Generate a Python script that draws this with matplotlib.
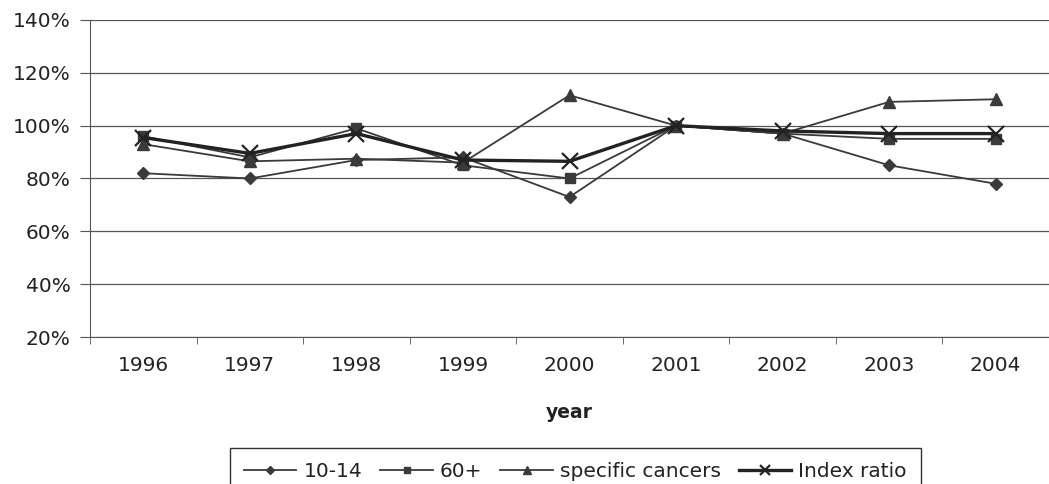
import matplotlib
matplotlib.use("Agg")
import matplotlib.pyplot as plt
from matplotlib.ticker import FuncFormatter, FixedLocator

plt.rcParams['font.family'] = ['DejaVu Sans']

# data (fractions, 1.0 = 100%)
years = ["1996", "1997", "1998", "1999", "2000", "2001", "2002", "2003", "2004"]
age_10_14 = [0.82, 0.80, 0.87, 0.88, 0.73, 1.00, 0.97, 0.85, 0.78]
age_60_plus = [0.96, 0.88, 0.99, 0.85, 0.80, 1.00, 0.97, 0.95, 0.95]
specific_cancers = [0.93, 0.865, 0.875, 0.86, 1.115, 1.00, 0.97, 1.09, 1.10]
index_ratio = [0.955, 0.895, 0.97, 0.87, 0.865, 1.00, 0.98, 0.97, 0.97]

line_col = "#3a3a3a"

fig = plt.figure(figsize=(10.49, 4.84), dpi=100)
ax = fig.add_axes([0.0858, 0.3037, 0.9142, 0.655])

x = list(range(len(years)))
ax.plot(x, age_10_14, color=line_col, lw=1.3, marker="D", ms=6, label="10-14")
ax.plot(x, age_60_plus, color=line_col, lw=1.3, marker="s", ms=7, label="60+")
ax.plot(x, specific_cancers, color=line_col, lw=1.3, marker="^", ms=8, label="specific cancers")
ax.plot(x, index_ratio, color="#222222", lw=2.4, marker="x", ms=11, mew=1.6, label="Index ratio")

ax.set_ylim(0.2, 1.4)
ax.set_xlim(-0.5, len(years) - 0.5)
ax.set_yticks([0.2, 0.4, 0.6, 0.8, 1.0, 1.2, 1.4])
ax.yaxis.set_major_formatter(FuncFormatter(lambda v, p: f"{v * 100:.0f}%"))
ax.set_xticks(x)
ax.set_xticklabels(years)
ax.xaxis.set_minor_locator(FixedLocator([i + 0.5 for i in range(-1, len(years))]))
ax.tick_params(axis="x", which="major", length=0, pad=14, labelsize=14.5, labelcolor="#222222")
ax.tick_params(axis="x", which="minor", length=5, direction="out", color="#555555")
ax.tick_params(axis="y", length=7, direction="out", color="#555555", labelsize=14.5,
               pad=7, labelcolor="#222222")

ax.grid(axis="y", color="#555555", lw=0.9)
ax.set_axisbelow(True)
for side in ["top", "right"]:
    ax.spines[side].set_visible(False)
for side in ["left", "bottom"]:
    ax.spines[side].set_color("#555555")

ax.set_xlabel("year", fontsize=13.5, fontweight="bold", labelpad=20, color="#222222")

leg = fig.legend(loc="upper center", bbox_to_anchor=(0.5486, 0.0744), ncol=4,
                 fontsize=14.5, frameon=True, fancybox=False, edgecolor="black",
                 handlelength=2.6, handletextpad=0.35, columnspacing=0.9,
                 borderpad=0.7, borderaxespad=0, markerscale=0.7)
leg.get_frame().set_linewidth(1.0)
for t in leg.get_texts():
    t.set_color("#222222")

fig.savefig("out.png", dpi=100)
